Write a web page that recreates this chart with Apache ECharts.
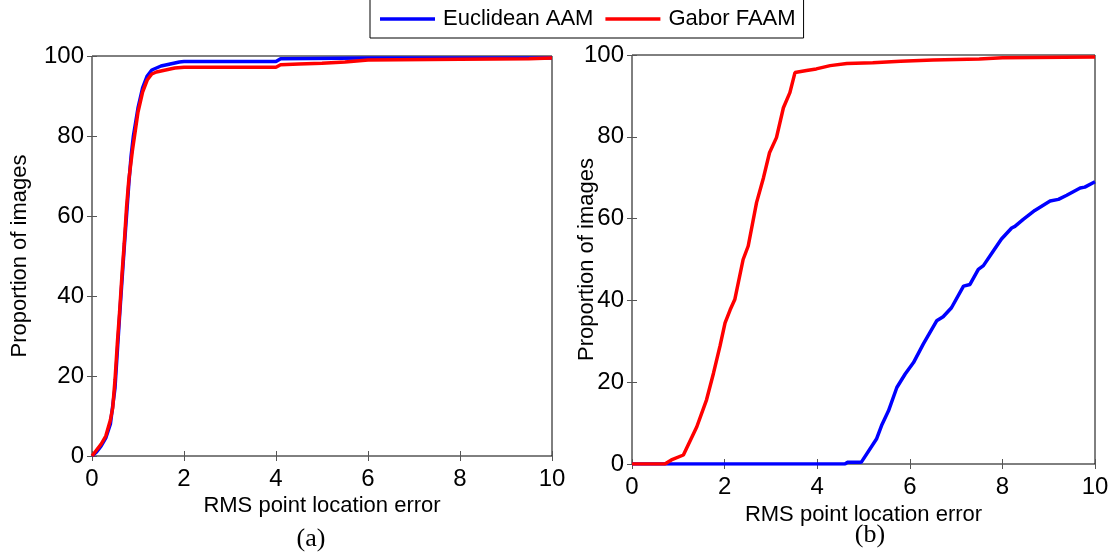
<!DOCTYPE html>
<html>
<head>
<meta charset="utf-8">
<script src="https://cdn.jsdelivr.net/npm/echarts@6/dist/echarts.min.js"></script>
<style>
  html, body { margin: 0; padding: 0; background: #fff; }
  #chart { width: 1114px; height: 556px; }
</style>
</head>
<body>
<div id="chart"></div>
<script>
// (a) error / proportion pairs
const errA_euc = [0, 0.1, 0.2, 0.3, 0.4, 0.5, 0.6, 0.7, 0.8, 0.85, 0.9, 1.0, 1.1, 1.2, 1.3, 1.5, 1.7, 1.9, 2.0, 4.0, 4.1, 6.0, 10]
const propA_euc = [0, 1, 2.5, 4.5, 8, 17, 35, 52, 68, 75, 80, 87, 92, 95, 96.5, 97.5, 98, 98.5, 98.6, 98.6, 99.3, 99.5, 99.5]
const errA_gab = [0, 0.1, 0.2, 0.3, 0.4, 0.45, 0.5, 0.55, 0.6, 0.65, 0.7, 0.75, 0.8, 0.88, 0.95, 1.0, 1.1, 1.2, 1.3, 1.4, 1.6, 1.8, 2.0, 4.0, 4.1, 4.5, 5.0, 5.5, 6.0, 8.0, 9.5, 10]
const propA_gab = [0, 1.5, 3, 5, 9, 12, 19, 28, 36, 45, 53, 62, 69, 76.5, 82, 86, 91, 94, 95.5, 96, 96.5, 97, 97.2, 97.2, 97.8, 98, 98.2, 98.5, 99, 99.2, 99.3, 99.5]

// (b)
const errB_euc = [0, 4.6, 4.65, 4.95, 5.28, 5.39, 5.54, 5.72, 5.9, 6.08, 6.29, 6.58, 6.72, 6.9, 7.16, 7.3, 7.48, 7.59, 7.8, 7.98, 8.2, 8.27, 8.45, 8.7, 9.03, 9.21, 9.39, 9.68, 9.78, 10]
const propB_euc = [0, 0, 0.4, 0.4, 6.1, 9.4, 13, 18.7, 22, 24.8, 29.3, 35, 36, 38.2, 43.5, 43.9, 47.6, 48.5, 52, 55, 57.7, 58.1, 59.8, 62, 64.3, 64.7, 65.7, 67.5, 67.7, 69]
const errB_gab = [0, 0.71, 0.85, 1.11, 1.4, 1.61, 1.76, 1.9, 2.01, 2.12, 2.22, 2.4, 2.51, 2.69, 2.84, 2.97, 3.12, 3.27, 3.41, 3.52, 3.77, 3.98, 4.28, 4.64, 5.2, 5.8, 6.5, 7.5, 8, 10]
const propB_gab = [0, 0, 1, 2.2, 9.1, 15.7, 22.2, 28.8, 34.5, 37.7, 40.2, 50, 53.3, 63.9, 70, 76.1, 79.8, 87.1, 90.8, 95.7, 96.2, 96.6, 97.4, 97.9, 98.1, 98.5, 98.8, 99, 99.3, 99.5]

const seriesNames = ['Euclidean AAM', 'Gabor FAAM']
const panelLabels = ['(a)', '(b)']
const xTitle = 'RMS point location error'
const yTitle = 'Proportion of images'

const sans = 'Liberation Sans, Arial, sans-serif'
const serif = 'Liberation Serif, Times New Roman, serif'

function zip(xs, ys) {
  return xs.map((x, i) => [x, ys[i]])
}

// grids in pixels
const grids = [
  { left: 92, top: 56, width: 460, height: 400 },
  { left: 632, top: 55, width: 463, height: 409 }
]

function xAxisFor(gi, pos, showLabel, gap) {
  return {
    type: 'value', gridIndex: gi, position: pos, min: 0, max: 10, interval: 2,
    axisLine: { show: false },
    axisTick: { show: true, inside: true, length: 5, lineStyle: { color: '#555' } },
    splitLine: { show: false },
    axisLabel: { show: showLabel, color: '#000', fontSize: 24, fontFamily: sans, margin: 11 },
    name: showLabel ? xTitle : '',
    nameLocation: 'middle',
    nameGap: gap,
    nameMoveOverlap: false,
    nameTextStyle: { color: '#000', fontSize: 22, fontFamily: sans }
  }
}

function yAxisFor(gi, pos, showLabel, gap) {
  return {
    type: 'value', gridIndex: gi, position: pos, min: 0, max: 100, interval: 20,
    axisLine: { show: false },
    axisTick: { show: true, inside: true, length: 5, lineStyle: { color: '#555' } },
    splitLine: { show: false },
    axisLabel: { show: showLabel, color: '#000', fontSize: 24, fontFamily: sans, margin: 8 },
    name: showLabel ? yTitle : '',
    nameLocation: 'middle',
    nameGap: gap,
    nameMoveOverlap: false,
    nameTextStyle: { color: '#000', fontSize: 22, fontFamily: sans }
  }
}

const chart = echarts.init(document.getElementById('chart'))
chart.setOption({
  animation: false,
  backgroundColor: '#fff',
  legend: {
    left: 370,
    top: -1,
    padding: [9, 8, 8, 10],
    icon: 'rect',
    itemWidth: 55,
    itemHeight: 3.5,
    itemGap: 12,
    borderColor: '#000',
    borderWidth: 1,
    data: seriesNames,
    textStyle: { color: '#000', fontSize: 22, fontFamily: sans, padding: [0, 0, 0, 3] }
  },
  title: [
    { text: panelLabels[0], left: 311, top: 526, textAlign: 'center', padding: 0,
      textStyle: { fontFamily: serif, fontSize: 26, fontWeight: 'normal', color: '#000' } },
    { text: panelLabels[1], left: 870, top: 522, textAlign: 'center', padding: 0,
      textStyle: { fontFamily: serif, fontSize: 26, fontWeight: 'normal', color: '#000' } }
  ],
  grid: grids.map(g => Object.assign({ show: true, borderColor: '#000', borderWidth: 1, backgroundColor: '#fff' }, g)),
  xAxis: [
    xAxisFor(0, 'bottom', true, 39),
    xAxisFor(0, 'top', false, 0),
    xAxisFor(1, 'bottom', true, 40),
    xAxisFor(1, 'top', false, 0)
  ],
  yAxis: [
    yAxisFor(0, 'left', true, 61),
    yAxisFor(0, 'right', false, 0),
    yAxisFor(1, 'left', true, 34),
    yAxisFor(1, 'right', false, 0)
  ],
  series: [
    { name: seriesNames[0], type: 'line', xAxisIndex: 0, yAxisIndex: 0, symbol: 'none',
      lineStyle: { color: '#0000ff', width: 3.5 }, itemStyle: { color: '#0000ff' }, data: zip(errA_euc, propA_euc) },
    { name: seriesNames[1], type: 'line', xAxisIndex: 0, yAxisIndex: 0, symbol: 'none',
      lineStyle: { color: '#ff0000', width: 3.5 }, itemStyle: { color: '#ff0000' }, data: zip(errA_gab, propA_gab) },
    { name: seriesNames[0], type: 'line', xAxisIndex: 2, yAxisIndex: 2, symbol: 'none',
      lineStyle: { color: '#0000ff', width: 3.5 }, itemStyle: { color: '#0000ff' }, data: zip(errB_euc, propB_euc) },
    { name: seriesNames[1], type: 'line', xAxisIndex: 2, yAxisIndex: 2, symbol: 'none',
      lineStyle: { color: '#ff0000', width: 3.5 }, itemStyle: { color: '#ff0000' }, data: zip(errB_gab, propB_gab) }
  ]
})
</script>
</body>
</html>
